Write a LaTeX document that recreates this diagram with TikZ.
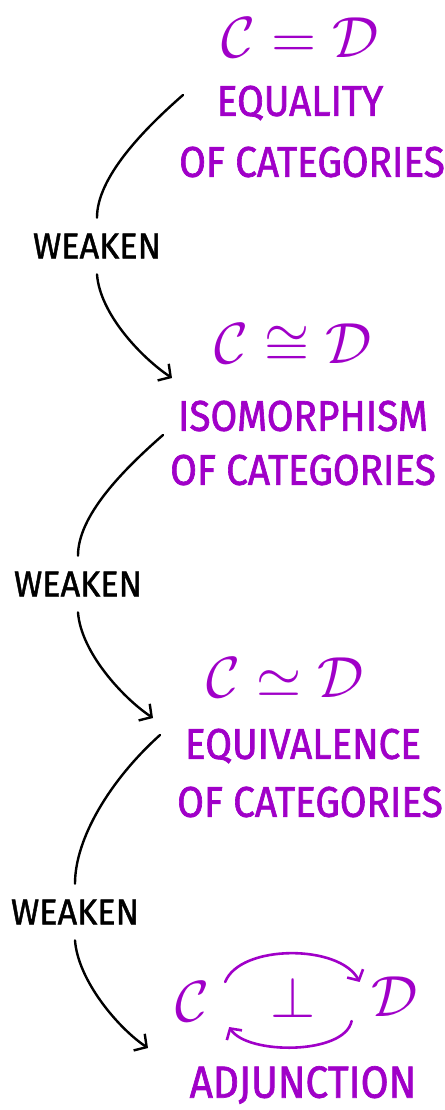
\documentclass[tikz,border=0pt]{standalone}
\usepackage{amsmath, amssymb}
\usepackage{graphicx}
\usepackage{fontspec}
\newfontfamily\handfont[FakeStretch=0.9, FakeBold=1.5]{Fira Sans}
\newfontfamily\weakfont[FakeStretch=0.95, FakeBold=1.2]{Fira Sans}
\usetikzlibrary{arrows.meta, calc}

\definecolor{catpurple}{RGB}{160,0,200}
\newcommand{\bigmath}[1]{\scalebox{5.8}{$#1$}}

\tikzset{
    catlabel/.style={catpurple, font=\handfont\fontsize{43}{48}\selectfont, inner sep=0pt},
    catmath/.style={catpurple, inner sep=0pt},
    weaklabel/.style={black, font=\weakfont\fontsize{36}{40}\selectfont, inner xsep=0pt, inner ysep=0pt, outer ysep=16pt},
    weakline/.style={black, line width=2.4pt, line cap=round},
    weakarrow/.style={weakline, -{Straight Barb[length=9pt, width=20pt, line width=2.4pt]}},
    adjarrow/.style={catpurple, line width=2.6pt, line cap=round, -{Straight Barb[length=8pt, width=18pt, line width=2.6pt]}},
}

\begin{document}
\begin{tikzpicture}[x=1pt, y=-1pt]
    \useasboundingbox (0, 0) rectangle (444, 1110);

    % Equality
    \node[catmath] (eqmath) at (300, 38) {\bigmath{\mathcal{C} = \mathcal{D}}};
    \node[catlabel] (eqtxt) at (300, 103) {EQUALITY};
    \node[catlabel] (eqcat) at (312, 162) {OF CATEGORIES};

    % Isomorphism
    \node[catmath] (isomath) at (293, 345) {\bigmath{\mathcal{C} \cong \mathcal{D}}};
    \node[catlabel] (isotxt) at (303, 416) {ISOMORPHISM};
    \node[catlabel] (isocat) at (303, 470) {OF CATEGORIES};

    % Equivalence
    \node[catmath] (equivmath) at (285, 678) {\bigmath{\mathcal{C} \simeq \mathcal{D}}};
    \node[catlabel] (equivtxt) at (303, 746) {EQUIVALENCE};
    \node[catlabel] (equivcat) at (310, 802) {OF CATEGORIES};

    % Adjunction
    \node[catmath] (adjC) at (192, 1002) {\bigmath{\mathcal{C}}};
    \node[catmath] (adjperp) at (293, 997) {\bigmath{\perp}};
    \node[catmath] (adjD) at (395, 997) {\bigmath{\mathcal{D}}};
    \node[catlabel, font=\handfont\fontsize{45}{48}\selectfont] (adjtxt) at (303, 1085) {ADJUNCTION};
    \draw[adjarrow] ($(adjC.north east)+(16, 0)$) .. controls +(15, -38) and +(-20, -38) .. ($(adjD.north west)+(-12, 5)$);
    \draw[adjarrow] ($(adjD.south west)+(-20, 4)$) .. controls +(-7, 34) and +(18, 28) .. ($(adjC.south east)+(20, 5)$);

    % Weaken steps
    \node[weaklabel] (weak1) at (97, 246) {WEAKEN};
    \node[weaklabel] (weak2) at (78, 584) {WEAKEN};
    \node[weaklabel] (weak3) at (75, 912) {WEAKEN};

    \coordinate (from1) at (183, 95);
    \coordinate (to1) at (172, 378);
    \coordinate (from2) at (163, 435);
    \coordinate (to2) at (153, 718);
    \coordinate (from3) at (160, 735);
    \coordinate (to3) at (148, 1048);

    \draw[weakline] (from1) .. controls +(-40, 35) and +(0, -40) .. (weak1.north);
    \draw[weakarrow] (weak1.south) .. controls +(3, 40) and +(-30, -20) .. (to1);
    \draw[weakline] (from2) .. controls +(-40, 35) and +(0, -40) .. (weak2.north);
    \draw[weakarrow] (weak2.south) .. controls +(3, 40) and +(-30, -20) .. (to2);
    \draw[weakline] (from3) .. controls +(-50, 45) and +(0, -45) .. (weak3.north);
    \draw[weakarrow] (weak3.south) .. controls +(3, 40) and +(-30, -20) .. (to3);
\end{tikzpicture}
\end{document}
